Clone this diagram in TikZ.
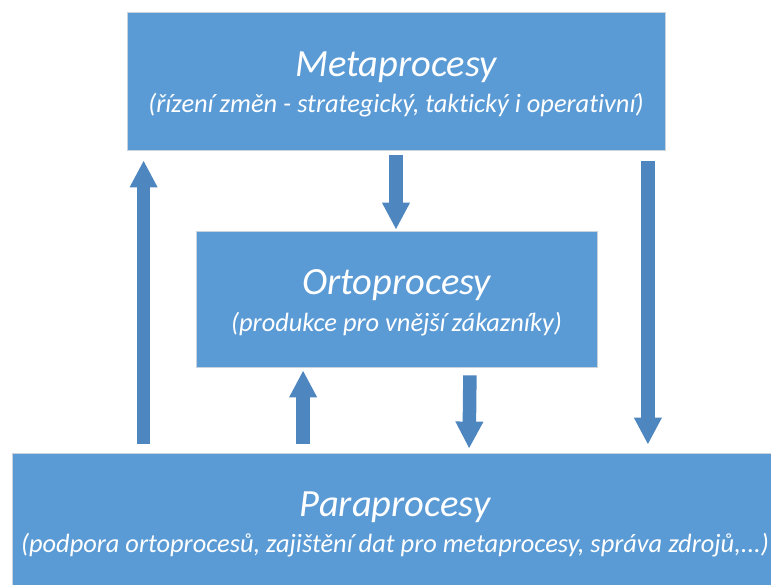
\documentclass[tikz,border=0pt]{standalone}
\usepackage{fontspec}
\setmainfont{Carlito}[Ligatures=NoCommon]
\usetikzlibrary{arrows.meta,calc}
\definecolor{boxblue}{HTML}{5B9BD5}
\definecolor{arrblue}{HTML}{4E86BF}
\definecolor{boxedge}{HTML}{C9D3DE}
\tikzset{
  procbox/.style={draw=boxedge, line width=0.8pt, fill=boxblue, inner sep=0pt},
  ttl/.style={text=white, anchor=base, inner sep=0pt, font=\fontsize{38.5}{46}\selectfont\itshape},
  sub/.style={text=white, anchor=base, inner sep=0pt, font=\fontsize{26.4}{31}\selectfont\itshape},
  blk/.style={draw=arrblue, line width=13.5pt, -{Triangle[width=26pt,length=27pt]}, fill=arrblue}
}
\begin{document}
\begin{tikzpicture}[x=1pt,y=1pt]
\useasboundingbox (0,0) rectangle (771,-585);
\begin{scope}
\clip (0,0) rectangle (771,-585);
\node[procbox, minimum width=538pt, minimum height=138pt] (meta) at (396,-81) {};
\node[procbox, minimum width=401pt, minimum height=136pt] (orto) at (396.5,-299) {};
\node[procbox, minimum width=759pt, minimum height=140pt] (para) at (391.5,-523) {};
\end{scope}
\node[ttl] (metaT) at ([yshift=-65]meta.north) {Metaprocesy};
\node[sub] (metaS) at ([yshift=-101]meta.north) {(řízení změn - strategický, taktický i operativní)};
\node[ttl] (ortoT) at ([yshift=-64]orto.north) {Ortoprocesy};
\node[sub] (ortoS) at ([yshift=-101]orto.north) {(produkce pro vnější zákazníky)};
\node[ttl] (paraT) at ([shift={(3.5,-64)}]para.north) {Paraprocesy};
\node[sub] (paraS) at ([shift={(3.5,-100)}]para.north) {(podpora ortoprocesů, zajištění dat pro metaprocesy, správa zdrojů,...)};
% block arrows
\draw[blk] ([shift={(132,9)}]para.north west) -- ([shift={(17,-10)}]meta.south west);
\draw[blk] ([yshift=-5]meta.south) -- ([shift={(-0.5,1)}]orto.north);
\draw[blk] ([shift={(-17.5,-11)}]meta.south east) -- ([shift={(-123.5,8)}]para.north east);
\draw[blk] ([shift={(291.5,9)}]para.north west) -- ([shift={(107.5,-3)}]orto.south west);
\draw[blk] ([shift={(-127.5,-8)}]orto.south east) -- ([shift={(457.5,4)}]para.north west);
\end{tikzpicture}
\end{document}
